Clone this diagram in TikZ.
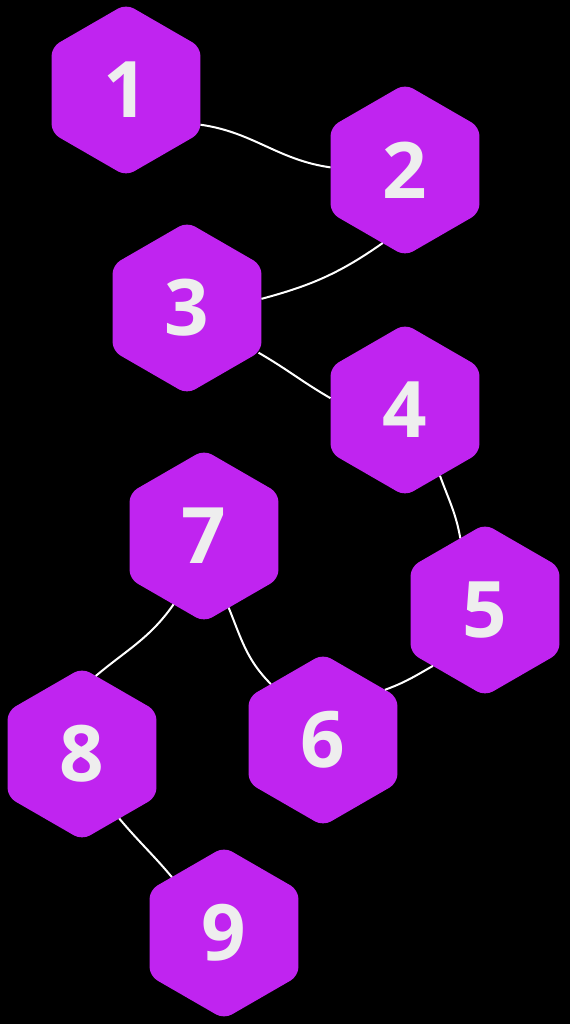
\documentclass[tikz,border=0pt]{standalone}
\usepackage{fontspec}
\setmainfont{Open Sans}
\usetikzlibrary{shapes.geometric}
\definecolor{hexfill}{HTML}{C024F0}
\definecolor{digit}{HTML}{EEEEEE}
\begin{document}
\begin{tikzpicture}[x=1pt,y=1pt,
  hexnode/.style={regular polygon, regular polygon sides=6, shape border rotate=30,
    minimum size=172pt, inner sep=0pt, outer sep=0pt, fill=hexfill, rounded corners=9pt,
    text=digit, font=\fontsize{78}{78}\selectfont\bfseries},
  link/.style={draw=white, line width=2pt}]
\fill[black] (0,0) rectangle (570,1024);
\useasboundingbox (0,0) rectangle (570,1024);
\node[hexnode] (n1) at (126,934) {1};
\node[hexnode] (n2) at (405,854) {2};
\node[hexnode] (n3) at (187,716) {3};
\node[hexnode] (n4) at (405,614) {4};
\node[hexnode] (n5) at (485,414) {5};
\node[hexnode] (n6) at (323,284) {6};
\node[hexnode] (n7) at (204,488) {7};
\node[hexnode] (n8) at (82,270) {8};
\node[hexnode] (n9) at (224,91) {9};
\draw[link] (n1.-25) to[out=-8,in=172] (n2.178);
\draw[link] (n2.253) to[out=215,in=15] (n3.7);
\draw[link] (n3.-32) to[out=-30,in=150] (n4.171);
\draw[link] (n4.-62) to[out=-70,in=100] (n5.109);
\draw[link] (n5.227) to[out=210,in=20] (n6.39);
\draw[link] (n7.-71) to[out=-68,in=135] (n6.133);
\draw[link] (n7.246) to[out=-125,in=40] (n8.80);
\draw[link] (n8.-60) to[out=-50,in=130] (n9.133);
\end{tikzpicture}
\end{document}
